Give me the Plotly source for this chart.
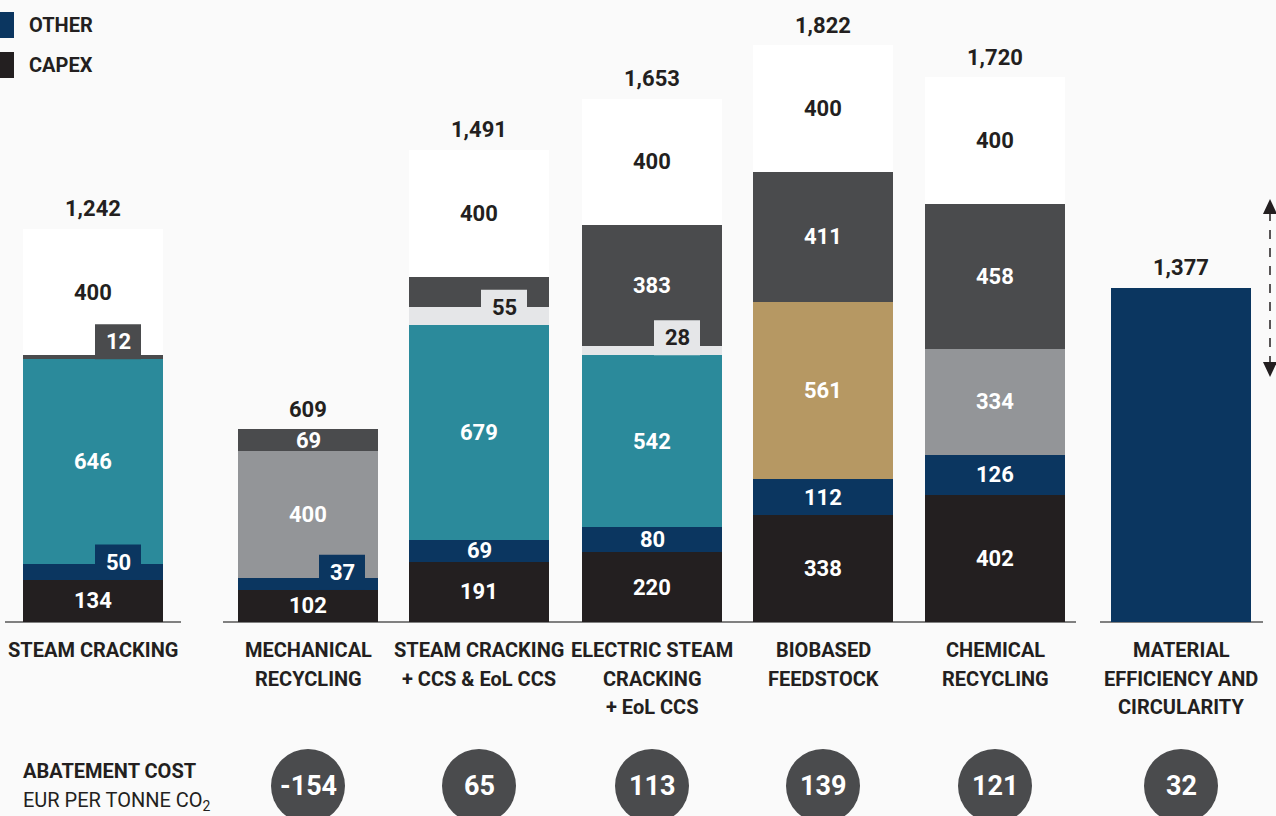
import plotly.graph_objects as go

# ---------------- DATA ----------------
categories = ["STEAM CRACKING", "MECHANICAL<br>RECYCLING", "STEAM CRACKING<br>+ CCS & EoL CCS",
              "ELECTRIC STEAM<br>CRACKING<br>+ EoL CCS", "BIOBASED<br>FEEDSTOCK",
              "CHEMICAL<br>RECYCLING", "MATERIAL<br>EFFICIENCY AND<br>CIRCULARITY"]
capex = [134, 102, 191, 220, 338, 402, 0]
other = [50, 37, 69, 80, 112, 126, 0]
ccs_seg = [646, 0, 679, 542, 0, 0, 0]
bio_seg = [0, 0, 0, 0, 561, 0, 0]
recycled_seg = [0, 400, 0, 0, 0, 334, 0]
light_seg = [0, 0, 55, 28, 0, 0, 0]
dark_seg = [12, 69, 97, 383, 411, 458, 0]
white_seg = [400, 0, 400, 400, 400, 400, 0]
material_drawn = [0, 0, 0, 0, 0, 0, 1055]   # bar height as drawn in the picture
totals = [1242, 609, 1491, 1653, 1822, 1720, 1377]
abatement = [None, -154, 65, 113, 139, 121, 32]

# ---------------- STYLE / LAYOUT ----------------
W, H = 1276, 816
BASE_PX = 622.0
SCALE = 0.31668          # pixels per unit
YMAX = BASE_PX / SCALE
YMIN = YMAX - H / SCALE
x_pos = [93, 308, 479, 652, 823, 995, 1181]
BAR_W = 140
BG = "#FAFAFA"
DARKTXT = "#231F20"
FONT = "Roboto, 'Liberation Sans', sans-serif"

def yd(px):
    return (BASE_PX - px) / SCALE

series = [
    ("CAPEX", capex, "#231F20", "white"),
    ("OTHER", other, "#0B3660", "white"),
    ("CCS", ccs_seg, "#2B8A9B", "white"),
    ("BIO", bio_seg, "#B69863", "white"),
    ("RECYCLED", recycled_seg, "#939598", "white"),
    ("LIGHT", light_seg, "#E5E6E8", DARKTXT),
    ("DARK", dark_seg, "#4A4B4D", "white"),
    ("WHITE", white_seg, "#FFFFFF", DARKTXT),
    ("MATERIAL", material_drawn, "#0B3660", "white"),
]
hidden = {("DARK", 2)}
boxed = {("DARK", 0): 25, ("OTHER", 0): 25, ("OTHER", 1): 34,
         ("LIGHT", 2): 25, ("LIGHT", 3): 25}
BOX_W, BOX_H = 46, 35
NUM_SIZE = 22

fig = go.Figure()
for name, vals, col, tcol in series:
    fig.add_trace(go.Bar(x=x_pos, y=vals, width=BAR_W, marker=dict(color=col, line=dict(width=0)),
                         name=name, showlegend=False, hoverinfo="skip"))

annotations = []
shapes = []

# baseline segments
for x0, x1 in [(5, 181), (223, 1076), (1100, 1263)]:
    shapes.append(dict(type="line", xref="x", yref="y", x0=x0, x1=x1, y0=0, y1=0,
                       line=dict(color="#808080", width=2), layer="below"))

# segment labels
cum = [0] * len(x_pos)
for name, vals, col, tcol in series:
    for i, v in enumerate(vals):
        if v <= 0 or name == "MATERIAL":
            cum[i] += v
            continue
        bottom = cum[i]
        if (name, i) in hidden:
            pass
        elif (name, i) in boxed:
            off = boxed[(name, i)]
            cx = x_pos[i] + off
            y0 = bottom
            y1 = bottom + BOX_H / SCALE
            shapes.append(dict(type="rect", xref="x", yref="y", x0=cx - BOX_W / 2, x1=cx + BOX_W / 2,
                               y0=y0, y1=y1, fillcolor=col, line=dict(width=0), layer="above"))
            annotations.append(dict(x=cx, y=(y0 + y1) / 2, xref="x", yref="y", text=str(v),
                                    showarrow=False, font=dict(family=FONT, size=NUM_SIZE, color=tcol, weight=700)))
        else:
            annotations.append(dict(x=x_pos[i], y=bottom + v / 2, xref="x", yref="y", text=str(v),
                                    showarrow=False, font=dict(family=FONT, size=NUM_SIZE, color=tcol, weight=700)))
        cum[i] += v

# totals
for i, t in enumerate(totals):
    top = cum[i]
    annotations.append(dict(x=x_pos[i], y=top, xref="x", yref="y", text=f"{t:,}", yshift=20,
                            showarrow=False, font=dict(family=FONT, size=NUM_SIZE, color=DARKTXT, weight=700)))

# category labels (one annotation per line for exact spacing)
LINE0, LINE_STEP = 650, 28.5
for i, c in enumerate(categories):
    for k, line in enumerate(c.split("<br>")):
        annotations.append(dict(x=x_pos[i], y=yd(LINE0 + k * LINE_STEP), xref="x", yref="y", text=line,
                                showarrow=False, font=dict(family=FONT, size=20, color=DARKTXT, weight=700)))

# abatement circles
R = 37
CY = 786
for i, a in enumerate(abatement):
    if a is None:
        continue
    shapes.append(dict(type="circle", xref="x", yref="y", x0=x_pos[i] - R, x1=x_pos[i] + R,
                       y0=yd(CY + R), y1=yd(CY - R), fillcolor="#4A4B4D", line=dict(width=0)))
    annotations.append(dict(x=x_pos[i], y=yd(CY), xref="x", yref="y", text=str(a), showarrow=False,
                            font=dict(family=FONT, size=27, color="white", weight=700)))

annotations.append(dict(x=21, y=yd(771), xref="x", yref="y", text="ABATEMENT COST", xanchor="left",
                        showarrow=False, font=dict(family=FONT, size=20, color=DARKTXT, weight=700)))
annotations.append(dict(x=21, y=yd(801), xref="x", yref="y", text="EUR PER TONNE CO<sub>2</sub>",
                        xanchor="left", showarrow=False,
                        font=dict(family=FONT, size=20, color=DARKTXT, weight=400)))

# legend (manual)
for label, col, py in [("OTHER", "#0B3660", 25), ("CAPEX", "#231F20", 65)]:
    shapes.append(dict(type="rect", xref="x", yref="y", x0=0, x1=14, y0=yd(py + 13), y1=yd(py - 13),
                       fillcolor=col, line=dict(width=0)))
    annotations.append(dict(x=27, y=yd(py), xref="x", yref="y", text=label, xanchor="left",
                            showarrow=False, font=dict(family=FONT, size=20, color=DARKTXT, weight=700)))

# dashed double arrow on the right
AX = 1270
shapes.append(dict(type="line", xref="x", yref="y", x0=AX, x1=AX, y0=yd(212), y1=yd(364),
                   line=dict(color=DARKTXT, width=1.5, dash="dash")))
shapes.append(dict(type="path", xref="x", yref="y",
                   path=f"M {AX-7},{yd(214)} L {AX+7},{yd(214)} L {AX},{yd(199)} Z",
                   fillcolor=DARKTXT, line=dict(width=0)))
shapes.append(dict(type="path", xref="x", yref="y",
                   path=f"M {AX-7},{yd(362)} L {AX+7},{yd(362)} L {AX},{yd(377)} Z",
                   fillcolor=DARKTXT, line=dict(width=0)))

fig.update_layout(
    width=W, height=H, barmode="stack", bargap=0,
    margin=dict(l=0, r=0, t=0, b=0),
    paper_bgcolor=BG, plot_bgcolor=BG,
    xaxis=dict(range=[0, W], visible=False, fixedrange=True),
    yaxis=dict(range=[YMIN, YMAX], visible=False, fixedrange=True),
    annotations=annotations, shapes=shapes,
)
fig.write_html("out.html", config={"displayModeBar": False},
               post_script="document.body.style.margin='0';document.body.style.background='#FAFAFA';")
